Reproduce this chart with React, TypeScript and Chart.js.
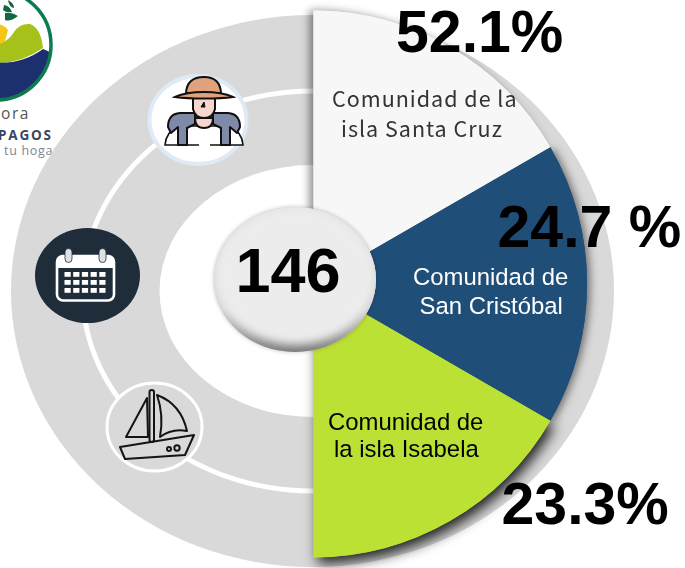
import React, { useEffect, useRef } from "react";
import { Chart, registerables } from "chart.js";

Chart.register(...registerables);

// The picture gives each community an equal 60 degree wedge; the printed shares differ.
const categories = ["Comunidad de la isla Santa Cruz", "Comunidad de San Cristóbal", "Comunidad de la isla Isabela", ""];
const wedgeDegrees = [60, 60, 60, 180];
const wedgeColors = ["#f7f7f7", "#1f4e79", "#bce135", "rgba(0,0,0,0)"];
const shareLabels = ["52.1%", "24.7 %", "23.3%"];
const totalLabel = "146";
const santaCruzLines = ["Comunidad de la", "isla Santa Cruz"];
const sanCristobalLines = ["Comunidad de", "San Cristóbal"];
const isabelaLines = ["Comunidad de", "la isla Isabela"];

// Stacked elliptical discs behind the wedges, top one first: [x radius, y radius, colour]
const backdropDiscs: [number, number, string][] = [
  [153, 126, "#ffffff"],
  [227.5, 197.5, "#d9d9d9"],
  [232.5, 202.5, "#ffffff"],
  [301.5, 276, "#d9d9d9"],
];

const SANS = '"Liberation Sans", Arial, sans-serif';

const backdropPlugin = {
  id: "ellipticalDiscs",
  afterDatasetUpdate(chart: any, args: any) {
    const arc = chart.getDatasetMeta(args.index).data[0];
    arc.outerRadius = backdropDiscs[args.index][0];
    arc.innerRadius = 0;
  },
  beforeDatasetDraw(chart: any, args: any) {
    const arc = chart.getDatasetMeta(args.index).data[0];
    const [rx, ry] = backdropDiscs[args.index];
    const ctx = chart.ctx;
    ctx.save();
    ctx.translate(arc.x, arc.y);
    ctx.scale(1, ry / rx);
    ctx.translate(-arc.x, -arc.y);
  },
  afterDatasetDraw(chart: any) {
    chart.ctx.restore();
  },
};

const wedgeShadows = [
  { x: -4, y: 0, blur: 8, color: "rgba(0,0,0,0.45)" },
  { x: 3, y: 1, blur: 9, color: "rgba(0,0,0,0.5)" },
  { x: 4, y: 6, blur: 13, color: "rgba(0,0,0,0.85)" },
];

const wedgeDecor = {
  id: "wedgeDecor",
  beforeDatasetsDraw(chart: any) {
    const ctx = chart.ctx;
    const arcs = chart.getDatasetMeta(0).data;
    wedgeShadows.forEach((s, i) => {
      const a = arcs[i];
      ctx.save();
      ctx.shadowOffsetX = s.x;
      ctx.shadowOffsetY = s.y;
      ctx.shadowBlur = s.blur;
      ctx.shadowColor = s.color;
      ctx.fillStyle = wedgeColors[i];
      ctx.beginPath();
      ctx.moveTo(a.x, a.y);
      ctx.arc(a.x, a.y, a.outerRadius, a.startAngle, a.endAngle);
      ctx.closePath();
      ctx.fill();
      ctx.restore();
    });
  },
  afterDraw(chart: any) {
    const ctx = chart.ctx;
    const cx = 295, cy = 279.5, rx = 81, ry = 72.5;

    // bevelled button
    ctx.save();
    ctx.shadowColor = "rgba(0,0,0,0.25)";
    ctx.shadowBlur = 4;
    ctx.fillStyle = "#cfcfcf";
    ctx.beginPath();
    ctx.ellipse(cx, cy, rx, ry, 0, 0, Math.PI * 2);
    ctx.fill();
    ctx.restore();

    ctx.save();
    ctx.beginPath();
    ctx.ellipse(cx, cy, rx, ry, 0, 0, Math.PI * 2);
    ctx.clip();
    const g = ctx.createLinearGradient(0, cy - ry, 0, cy + ry);
    g.addColorStop(0, "#e4e4e4");
    g.addColorStop(0.7, "#d2d2d2");
    g.addColorStop(1, "#7c7c7c");
    ctx.fillStyle = g;
    ctx.fillRect(cx - rx, cy - ry, rx * 2, ry * 2);
    ctx.filter = "blur(4px)";
    ctx.fillStyle = "#ececec";
    ctx.beginPath();
    ctx.ellipse(cx, cy - 3, rx - 1, ry - 5, 0, 0, Math.PI * 2);
    ctx.fill();
    ctx.restore();

    ctx.textBaseline = "alphabetic";
    ctx.textAlign = "left";
    const put = (t: string, x: number, y: number, font: string, color: string, spacing = "0px") => {
      ctx.font = font;
      ctx.fillStyle = color;
      (ctx as any).letterSpacing = spacing;
      ctx.fillText(t, x, y);
    };

    const jp = '21.5px "Noto Sans CJK JP"';
    put(santaCruzLines[0], 332, 107, jp, "#333333", "1px");
    put(santaCruzLines[1], 341, 137, jp, "#333333", "1px");
    const ar = `23.9px ${SANS}`;
    put(sanCristobalLines[0], 413, 285, ar, "#ffffff");
    put(sanCristobalLines[1], 419.5, 314, ar, "#ffffff");
    put(isabelaLines[0], 328, 430, ar, "#000000");
    put(isabelaLines[1], 334, 457, ar, "#000000");

    const big = `bold 59px ${SANS}`;
    put(shareLabels[0], 396, 52, big, "#000000");
    put(shareLabels[1], 497.5, 247, big, "#000000");
    put(shareLabels[2], 501.5, 524, big, "#000000");
    put(totalLabel, 235.5, 292, `bold 63px ${SANS}`, "#000000");
  },
};

function Logo() {
  return (
    <svg width={685} height={568} style={{ position: "absolute", left: 0, top: 0 }}>
      <defs>
        <clipPath id="logoDisc">
          <circle cx={-4} cy={45} r={54} />
        </clipPath>
      </defs>
      <g clipPath="url(#logoDisc)">
        <rect x={-60} y={-10} width={120} height={120} fill="#ffffff" />
        <path d="M-10 25 Q2 22 8 30 L4 45 L-10 48 Z" fill="#f5c518" />
        <path d="M-5 46 Q8 42 14 32 Q20 23 30 24 Q41 28 43 48 Q20 64 -5 63 Z" fill="#a6c21a" />
        <path d="M-10 62 Q20 66 43 49 L50 52 L50 110 L-10 110 Z" fill="#1c2f6e" />
      </g>
      <circle cx={-4} cy={45} r={55} fill="none" stroke="#0e7a50" strokeWidth={3.5} />
      <path d="M5 13 Q12 12 18 16 Q10 22 5 20 Z M4 5 Q10 6 12 12 Q6 13 3 10 Z M8 0 Q14 3 14 8 Q9 7 8 0 Z" fill="#13693f" />
      <text x={1} y={119} fontFamily='"Open Sans"' fontSize={15.5} letterSpacing={1.6} fill="#555555">ora</text>
      <text x={-2} y={140} fontFamily='"Open Sans"' fontWeight={700} fontSize={13.5} letterSpacing={1.8} fill="#3a4660">PAGOS</text>
      <text x={4} y={155} fontFamily='"Open Sans"' fontSize={12.5} letterSpacing={0.7} fill="#7b8794">tu hogar</text>
    </svg>
  );
}

function Icons() {
  const rows = [0, 1, 2];
  const cols = [0, 1, 2, 3, 4];
  const ink = "#111111";
  return (
    <svg width={685} height={568} style={{ position: "absolute", left: 0, top: 0 }}>
      {/* hiker */}
      <ellipse cx={198} cy={120} rx={48.5} ry={44} fill="#ffffff" stroke="#deeaf5" strokeWidth={4} />
      <path d="M165 145 Q166 132 178 126 L230 126 Q242 132 243 145 Z" fill="#ffffff" stroke={ink} strokeWidth={1.6} />
      <path d="M168 127 Q168 114 180 113 L195 113 L195 124 L187 128 L187 145 L178 145 L178 127 L171 133 Z" fill="#7f8aa8" stroke={ink} strokeWidth={2} strokeLinejoin="round" />
      <path d="M240 127 Q240 114 228 113 L213 113 L213 124 L221 128 L221 145 L230 145 L230 127 L237 133 Z" fill="#7f8aa8" stroke={ink} strokeWidth={2} strokeLinejoin="round" />
      <path d="M195 118 Q195 128 204 128 Q213 128 213 118 Z" fill="#f7d6cd" stroke={ink} strokeWidth={2} />
      <path d="M193 97 L193 109 Q195 118 204 118 Q213 118 215 109 L215 97 Z" fill="#f7d6cd" stroke={ink} strokeWidth={2} />
      <path d="M186 93 Q187 77 204 77 Q220 77 221 93 Z" fill="#e0a27c" stroke={ink} strokeWidth={2} />
      <path d="M175 97 Q186 92 204 92 Q222 92 233 97 Q222 98.5 204 98.5 Q186 98.5 175 97 Z" fill="#e0a27c" stroke={ink} strokeWidth={2} />
      <path d="M204 102 L201 107 L205 107 Z" fill={ink} stroke={ink} />
      <rect x={199} y={143} width={11} height={5} fill="#ffffff" />
      {/* calendar */}
      <ellipse cx={87.5} cy={275.5} rx={52.5} ry={47.5} fill="#1f2d3a" />
      <rect x={57} y={256} width={57} height={44.5} rx={6} fill="#1f2d3a" stroke="#ffffff" strokeWidth={2.6} />
      <path d="M57 268 L57 262 Q57 256 63 256 L108 256 Q114 256 114 262 L114 268 Z" fill="#ffffff" />
      <rect x={65} y={248.5} width={7} height={14} rx={3.5} fill="#dde1e4" stroke="#1f2d3a" strokeWidth={0.8} />
      <rect x={99} y={248.5} width={7} height={14} rx={3.5} fill="#dde1e4" stroke="#1f2d3a" strokeWidth={0.8} />
      {rows.map((r) =>
        cols.map((c) => (
          <rect key={`${r}-${c}`} x={64.5 + c * 8.7} y={272 + r * 8} width={6.2} height={4.8} fill="#ffffff" />
        ))
      )}
      {/* boat */}
      <ellipse cx={154.5} cy={427} rx={47.5} ry={44} fill="#d9d9d9" stroke="#ffffff" strokeWidth={3} />
      <g fill="none" stroke="#141414" strokeWidth={2} strokeLinejoin="round">
        <rect x={149.5} y={390} width={4.5} height={52} rx={2.2} />
        <path d="M147 398 L126 437 L148 437 Z" />
        <path d="M157 395 Q181 404 187 431 Q172 428 160 437 Q164 415 157 395 Z" />
        <path d="M120 447 L194 435 L185 455 L125 459 Z" />
        <circle cx={169} cy={449} r={2} />
        <circle cx={177} cy={448} r={2.7} />
      </g>
    </svg>
  );
}

export default function App() {
  const backRef = useRef<HTMLCanvasElement>(null);
  const frontRef = useRef<HTMLCanvasElement>(null);

  useEffect(() => {
    const back = new Chart(backRef.current!, {
      type: "doughnut",
      data: {
        labels: ["disc"],
        datasets: backdropDiscs.map((d) => ({
          data: [1],
          backgroundColor: d[2],
          borderWidth: 0,
          clip: false as any,
        })),
      },
      options: {
        animation: false,
        responsive: false,
        cutout: 0,
        layout: { padding: { left: 0, right: 60, top: 14, bottom: 0 } },
        plugins: { legend: { display: false }, tooltip: { enabled: false } },
      },
      plugins: [backdropPlugin],
    });

    const front = new Chart(frontRef.current!, {
      type: "doughnut",
      data: {
        labels: categories,
        datasets: [
          {
            data: wedgeDegrees,
            backgroundColor: wedgeColors,
            borderWidth: 0,
            clip: false as any,
          },
        ],
      },
      options: {
        animation: false,
        responsive: false,
        cutout: 0,
        radius: 273.5,
        layout: { padding: { left: 0, right: 58, top: 0, bottom: 0 } },
        plugins: { legend: { display: false }, tooltip: { enabled: false } },
      },
      plugins: [wedgeDecor],
    });

    return () => {
      back.destroy();
      front.destroy();
    };
  }, []);

  const layer: React.CSSProperties = { position: "absolute", left: 0, top: 0 };
  return (
    <div style={{ position: "absolute", left: 0, top: 0, width: 685, height: 568, overflow: "hidden", background: "#ffffff" }}>
      <Logo />
      <canvas ref={backRef} width={685} height={568} style={layer} />
      <Icons />
      <canvas ref={frontRef} width={685} height={568} style={layer} />
    </div>
  );
}
